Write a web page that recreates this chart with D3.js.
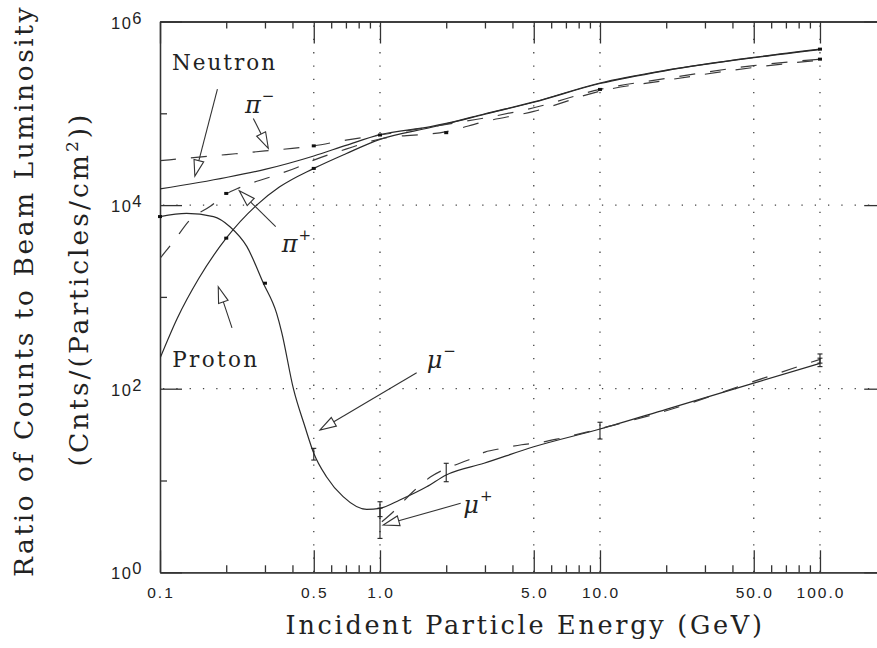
<!DOCTYPE html>
<html><head><meta charset="utf-8">
<script src="https://cdn.jsdelivr.net/npm/d3@7"></script>
<style>body{margin:0;background:#fff}svg{display:block}</style>
</head><body>
<svg id="c" width="877" height="648"></svg>
<script>
// ---------- data ----------
const eNeutron = [0.1,0.2,0.3,0.5,0.7,1,1.7,2,3,5,10,20,50,100];
const neutron  = [1.5e4,2.0e4,2.45e4,3.43e4,4.47e4,5.85e4,7.16e4,7.76e4,9.89e4,1.33e5,2.14e5,2.95e5,4.07e5,5.0e5];

const eProton = [0.1,0.12,0.15,0.2,0.275,0.35,0.5,0.7,1,1.7,2,3,5,10,20,50,100];
const proton  = [214,589,1585,4365,1.0e4,1.58e4,2.51e4,3.63e4,5.2e4,7.0e4,7.67e4,9.77e4,1.32e5,2.11e5,2.92e5,4.03e5,4.95e5];

const ePiMinus = [0.1,0.2,0.3,0.5,0.7,1,2,3,5,10,20,50,100];
const piMinus  = [3.05e4,3.55e4,3.89e4,4.42e4,5.1e4,5.8e4,7.59e4,8.91e4,1.15e5,1.82e5,2.4e5,3.31e5,3.89e5];

const ePiPlus = [0.1,0.115,0.137,0.17,0.2,0.23,0.32,0.42,0.5,0.7,1,2,3,5,10,20,50,100];
const piPlus  = [2630,3980,6920,9770,1.32e4,1.55e4,2.04e4,2.57e4,3.09e4,4.07e4,5.25e4,6.31e4,8.13e4,1.05e5,1.74e5,2.29e5,3.16e5,3.8e5];

const eMuMinus = [0.1,0.132,0.175,0.208,0.248,0.295,0.339,0.357,0.404,0.456,0.5,0.571,0.68,0.87,1,1.23,1.63,2,2.97,5,10,20,50,100];
const muMinus  = [7500,8130,7500,5820,3550,1410,661,417,100,38.5,19.8,11.0,6.67,4.85,4.98,6.14,8.55,11.5,15.4,23.3,36.4,59.6,115,189];

const eMuPlus = [1.02,1.15,1.4,1.7,2,2.5,3,3.6,4.4,5.2,6.6,10,20,50,100];
const muPlus  = [3.55,4.57,7.41,10.96,13.5,16.6,20.4,22.4,24.5,25.7,28.8,36.7,57.5,120,209];

// error bars (muons)
const errE  = [0.5,1,2,10,100,1,100];
const errLo = [16.7,4.04,9.7,28.3,174,2.34,190];
const errHi = [22.4,5.87,15.4,43.1,215,5.0,239];

// small data-point marks on the curves
const markE = [0.5,10,100,0.2,2,0.2,0.5,100,0.1,0.3,1];
const markV = [4.42e4,1.82e5,3.89e5,1.34e4,6.15e4,4365,2.51e4,5.0e5,7500,1410,5.8e4];

// axis ticks
const xMajor = [0.1,0.5,1,5,10,50,100];
const xLabels = ["0.1","0.5","1.0","5.0","10.0","50.0","100.0"];
const xMinor = [0.2,0.3,0.4,0.6,0.7,0.8,0.9,2,3,4,6,7,8,9,20,30,40,60,70,80,90];
const xGrid = [0.5,1,5,10,50,100];
const yMajor = [1,1e2,1e4,1e6];
const yExp = ["0","2","4","6"];
const yMinor = [10,1e3,1e5];
const yGrid = [1e2,1e4];

// annotations: label anchor and arrow (tail -> tip), data coordinates
const labelNames = ["Neutron","Proton","π","π","μ","μ"];
const labelSup   = ["","","−","+","−","+"];
const labelE = [0.1134,0.1137,0.2434,0.3574,1.631,2.391];
const labelV = [2.96e5,173.6,1.0e5,3108,166.7,4.39];
const arrowTailE = [0.1824,0.2125,0.2655,0.3357,1.468,2.327];
const arrowTailV = [1.83e5,459,8.8e4,5820,149,5.64];
const arrowTipE  = [0.144,0.184,0.3107,0.2293,0.534,1.035];
const arrowTipV  = [2.07e4,1291,4.16e4,1.43e4,35.5,3.27];

// ---------- drawing ----------
const svg = d3.select("#c");
const L = 160, R = 886.2, T = 21.5, B = 572.3;
const x = d3.scaleLog().domain([0.1,200]).range([L,R]);
const y = d3.scaleLog().domain([1,1e6]).range([B,T]);
const ink = "#333";
const SERIF = "'DejaVu Serif','Liberation Serif',serif";
const SANS = "'Liberation Sans',Arial,sans-serif";

svg.append("defs").append("clipPath").attr("id","clip")
  .append("rect").attr("x",L).attr("y",T).attr("width",R-L).attr("height",B-T);

// grid
const grid = svg.append("g").attr("stroke","#444").attr("stroke-width",1.3).attr("stroke-dasharray","1.3 12");
grid.selectAll(".gx").data(xGrid).join("line")
  .attr("x1",d=>x(d)).attr("x2",d=>x(d)).attr("y1",T+4).attr("y2",B);
grid.selectAll(".gy").data(yGrid).join("line")
  .attr("x1",L+3).attr("x2",R).attr("y1",d=>y(d)).attr("y2",d=>y(d));

// axes (ticks pointing inward on all four sides)
function axisStyle(g){ g.attr("color",ink).attr("stroke-width",1.3).selectAll("text").remove(); }
svg.append("g").attr("transform",`translate(0,${B})`).call(d3.axisBottom(x).tickValues(xMajor).tickSize(-22).tickSizeOuter(0)).call(axisStyle);
svg.append("g").attr("transform",`translate(0,${B})`).call(d3.axisBottom(x).tickValues(xMinor).tickSize(-7).tickSizeOuter(0)).call(axisStyle);
svg.append("g").attr("transform",`translate(0,${T})`).call(d3.axisTop(x).tickValues(xMajor).tickSize(-22).tickSizeOuter(0)).call(axisStyle);
svg.append("g").attr("transform",`translate(0,${T})`).call(d3.axisTop(x).tickValues(xMinor).tickSize(-7).tickSizeOuter(0)).call(axisStyle);
svg.append("g").attr("transform",`translate(${L},0)`).call(d3.axisLeft(y).tickValues(yMajor).tickSize(-22).tickSizeOuter(0)).call(axisStyle);
svg.append("g").attr("transform",`translate(${L},0)`).call(d3.axisLeft(y).tickValues(yMinor).tickSize(-7).tickSizeOuter(0)).call(axisStyle);
svg.append("g").attr("transform",`translate(${R},0)`).call(d3.axisRight(y).tickValues(yMajor).tickSize(-22).tickSizeOuter(0)).call(axisStyle);
svg.append("g").attr("transform",`translate(${R},0)`).call(d3.axisRight(y).tickValues(yMinor).tickSize(-7).tickSizeOuter(0)).call(axisStyle);

// tick labels
svg.append("g").selectAll("text").data(xMajor).join("text")
  .attr("x",d=>x(d)+1).attr("y",B+25.2).attr("text-anchor","middle")
  .attr("font-family",SANS).attr("font-size",15.5).attr("letter-spacing",2)
  .attr("fill","#222").text((d,i)=>xLabels[i]);
const yl = svg.append("g").selectAll("text").data(yMajor).join("text")
  .attr("x",143).attr("y",d=>y(d)+7).attr("text-anchor","end")
  .attr("font-family",SANS).attr("font-size",16.5).attr("letter-spacing",1.5).attr("fill","#222");
yl.append("tspan").text("10");
yl.append("tspan").attr("dy",-5).text((d,i)=>yExp[i]);

// curves
const line = d3.line().x(d=>x(d[0])).y(d=>y(d[1])).curve(d3.curveMonotoneX);
const curves = svg.append("g").attr("clip-path","url(#clip)").attr("fill","none").attr("stroke-width",1.2);
const series = [
  [eNeutron,neutron,null],[eProton,proton,null],
  [ePiMinus,piMinus,"16 15"],[ePiPlus,piPlus,"16 15"],
  [eMuMinus,muMinus,null],[eMuPlus,muPlus,"16 15"]
];
series.forEach(([e,v,dash])=>{
  curves.append("path").datum(e.map((d,i)=>[d,v[i]]))
    .attr("d",line).attr("stroke",dash?"#3a3a3a":"#2a2a2a")
    .attr("stroke-dasharray",dash);
});

// error bars
const eb = svg.append("g").attr("stroke","#222").attr("stroke-width",1.1);
errE.forEach((e,i)=>{
  const cx = x(e);
  eb.append("line").attr("x1",cx).attr("x2",cx).attr("y1",y(errLo[i])).attr("y2",y(errHi[i]));
  [errLo[i],errHi[i]].forEach(v=>eb.append("line").attr("x1",cx-2.5).attr("x2",cx+2.5).attr("y1",y(v)).attr("y2",y(v)));
});
// data marks
svg.append("g").selectAll("rect").data(markE).join("rect")
  .attr("x",d=>x(d)-2).attr("y",(d,i)=>y(markV[i])-1.5).attr("width",4).attr("height",3).attr("fill","#111");

// annotations
const ann = svg.append("g");
labelNames.forEach((name,i)=>{
  const greek = labelSup[i] !== "";
  const t = ann.append("text").attr("x",x(labelE[i])).attr("y",y(labelV[i]))
    .attr("font-family",SERIF).attr("fill","#222")
    .attr("font-size",greek?24:21.5).attr("font-style",greek?"italic":null);
  t.append("tspan").text(name);
  if (greek) t.append("tspan").attr("dy",-12).attr("font-size",15).attr("font-style","normal").attr("dx",1).text(labelSup[i]);
  if (!greek) {
    const target = name==="Neutron"?104:86;
    const n = t.node().getComputedTextLength();
    t.attr("letter-spacing",(target-n)/(name.length-0.5));
  }
  // arrow
  const x0=x(arrowTailE[i]), y0=y(arrowTailV[i]), x1=x(arrowTipE[i]), y1=y(arrowTipV[i]);
  const dx=x1-x0, dy=y1-y0, len=Math.hypot(dx,dy), ux=dx/len, uy=dy/len;
  const HL=16, HW=5, bx=x1-ux*HL, by=y1-uy*HL;
  ann.append("line").attr("x1",x0).attr("y1",y0).attr("x2",bx).attr("y2",by)
    .attr("stroke",ink).attr("stroke-width",1.1);
  ann.append("path").attr("d",`M${x1},${y1}L${bx-uy*HW},${by+ux*HW}L${bx+uy*HW},${by-ux*HW}Z`)
    .attr("fill","#fff").attr("stroke",ink).attr("stroke-width",1.1).attr("stroke-linejoin","miter");
});

// axis titles
function fit(t,target){
  const n=t.node().getComputedTextLength();
  const c=t.text().length;
  t.attr("letter-spacing",(target-n)/c);
}
const xt = svg.append("text").attr("x",(L+R)/2+2).attr("y",634).attr("text-anchor","middle")
  .attr("font-family",SERIF).attr("font-size",25.5).attr("fill","#222")
  .text("Incident Particle Energy (GeV)");
fit(xt,479);

const yt1 = svg.append("text").attr("transform","translate(33.3,291) rotate(-90)").attr("text-anchor","middle")
  .attr("font-family",SERIF).attr("font-size",26.5).attr("fill","#222")
  .text("Ratio of Counts to Beam Luminosity");
fit(yt1,572);
const yt2 = svg.append("text").attr("transform","translate(87.5,289) rotate(-90)").attr("text-anchor","middle")
  .attr("font-family",SERIF).attr("font-size",26.5).attr("fill","#222");
yt2.append("tspan").text("(Cnts/(Particles/cm");
yt2.append("tspan").attr("dy",-10).attr("font-size",17).text("2");
yt2.append("tspan").attr("dy",10).text("))");
{
  const n=yt2.node().getComputedTextLength();
  yt2.attr("letter-spacing",(355-n)/22);
}
</script>
</body></html>
